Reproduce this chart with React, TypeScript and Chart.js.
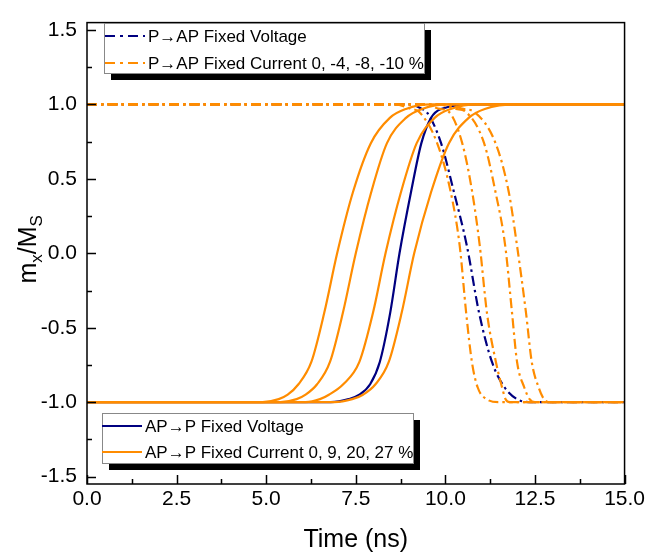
import React, { useEffect, useRef } from 'react';
import { Chart, registerables } from 'chart.js';

Chart.register(...registerables);

const ORANGE = '#FF8C00';
const NAVY = '#000080';
const FONT = '"Liberation Sans", Arial, sans-serif';

const xTicks = [0, 2.5, 5, 7.5, 10, 12.5, 15];
const xTickLabels = ['0.0', '2.5', '5.0', '7.5', '10.0', '12.5', '15.0'];
const yTicks = [-1.5, -1, -0.5, 0, 0.5, 1, 1.5];
const yTickLabels = ['-1.5', '-1.0', '-0.5', '0.0', '0.5', '1.0', '1.5'];

// AP->P (rising) : time (ns) at which m_x/M_S reaches each level
const riseLevels = [-1, -0.98, -0.95, -0.88, -0.73, -0.4, 0, 0.41, 0.74, 0.91, 0.97, 1];
const riseVoltage = [6.8, 7.3, 7.6, 7.9, 8.17, 8.46, 8.72, 9.04, 9.33, 9.6, 9.88, 10.9];
const riseCurrent0 = [6.9, 7.4, 7.7, 8.05, 8.42, 8.78, 9.13, 9.6, 10.1, 10.65, 11.1, 12.0];
const riseCurrent9 = [6.1, 6.5, 6.75, 7.15, 7.6, 7.98, 8.33, 8.76, 9.2, 9.7, 10.15, 10.9];
const riseCurrent20 = [5.4, 5.85, 6.1, 6.42, 6.78, 7.14, 7.5, 7.93, 8.37, 8.9, 9.35, 10.1];
const riseCurrent27 = [4.9, 5.35, 5.6, 5.9, 6.26, 6.62, 6.98, 7.42, 7.92, 8.45, 8.9, 9.6];

// P->AP (falling)
const fallLevels = [1, 0.97, 0.95, 0.74, 0.41, 0.05, -0.4, -0.73, -0.9, -0.98, -1];
const fallVoltage = [9.0, 9.35, 9.48, 9.88, 10.24, 10.6, 10.94, 11.3, 11.65, 12.0, 12.4];
const fallCurrent0 = [8.6, 9.05, 9.27, 9.77, 10.15, 10.4, 10.58, 10.74, 10.9, 11.15, 11.5];
const fallCurrent4 = [9.4, 9.85, 10.1, 10.47, 10.75, 10.96, 11.16, 11.41, 11.58, 11.68, 11.8];
const fallCurrent8 = [9.8, 10.3, 10.57, 11.08, 11.4, 11.67, 11.86, 12.0, 12.2, 12.35, 12.5];
const fallCurrent10 = [10.0, 10.5, 10.8, 11.4, 11.77, 12.0, 12.25, 12.41, 12.6, 12.75, 12.9];

const X_MIN = 0;
const X_MAX = 15;

const legendTop = [
  { label: 'P\u2192AP Fixed Voltage', color: NAVY, dash: [10, 5, 3, 5] },
  { label: 'P\u2192AP Fixed Current 0, -4, -8, -10 %', color: ORANGE, dash: [10, 5, 3, 5] },
];
const legendBottom = [
  { label: 'AP\u2192P Fixed Voltage', color: NAVY, dash: [] as number[] },
  { label: 'AP\u2192P Fixed Current 0, 9, 20, 27 %', color: ORANGE, dash: [] as number[] },
];

function buildRise(times: number[]) {
  return [{ x: X_MIN, y: -1 }, ...times.map((t, i) => ({ x: t, y: riseLevels[i] })), { x: X_MAX, y: 1 }];
}
function buildFall(times: number[]) {
  return [{ x: X_MIN, y: 1 }, ...times.map((t, i) => ({ x: t, y: fallLevels[i] })), { x: X_MAX, y: -1 }];
}

const DD = [10, 4, 2.5, 4];

function ds(data: any, color: string, dash: number[], order: number) {
  return {
    data,
    borderColor: color,
    backgroundColor: color,
    borderWidth: 2.2,
    borderDash: dash,
    pointRadius: 0,
    fill: false,
    cubicInterpolationMode: 'monotone' as const,
    order,
  };
}

const framePlugin = {
  id: 'frameTicks',
  afterDatasetsDraw(chart: any) {
    const { ctx, chartArea: a, scales } = chart;
    const x = scales.x;
    const y = scales.y;
    ctx.save();
    ctx.strokeStyle = '#000';
    ctx.lineWidth = 1.5;
    ctx.strokeRect(a.left, a.top, a.right - a.left, a.bottom - a.top);
    ctx.beginPath();
    for (let i = 0; i <= 12; i++) {
      const px = Math.round(x.getPixelForValue(i * 1.25)) + 0.5;
      const len = i % 2 === 0 ? 9 : 5;
      ctx.moveTo(px, a.bottom);
      ctx.lineTo(px, a.bottom - len);
    }
    for (let i = 0; i <= 12; i++) {
      const py = Math.round(y.getPixelForValue(-1.5 + i * 0.25)) + 0.5;
      const len = i % 2 === 0 ? 9 : 5;
      ctx.moveTo(a.left, py);
      ctx.lineTo(a.left + len, py);
    }
    ctx.stroke();
    ctx.restore();
  },
};

function drawLegendBox(ctx: CanvasRenderingContext2D, bx: number, by: number, bw: number, bh: number,
  items: { label: string; color: string; dash: number[] }[], lineX0: number, lineX1: number, textX: number, rowsY: number[]) {
  ctx.save();
  ctx.fillStyle = '#000';
  ctx.fillRect(bx + 7, by + 7, bw, bh);
  ctx.fillStyle = '#fff';
  ctx.fillRect(bx, by, bw, bh);
  ctx.strokeStyle = '#888';
  ctx.lineWidth = 1;
  ctx.strokeRect(bx + 0.5, by + 0.5, bw, bh);
  items.forEach((it, i) => {
    const yy = rowsY[i];
    ctx.strokeStyle = it.color;
    ctx.lineWidth = 2;
    ctx.setLineDash(it.dash);
    ctx.beginPath();
    ctx.moveTo(lineX0, yy);
    ctx.lineTo(lineX1, yy);
    ctx.stroke();
    ctx.setLineDash([]);
    ctx.fillStyle = '#000';
    ctx.font = `17px ${FONT}`;
    ctx.textBaseline = 'middle';
    ctx.textAlign = 'left';
    ctx.fillText(it.label, textX, yy + 1);
  });
  ctx.restore();
}

const legendPlugin = {
  id: 'customLegends',
  afterDraw(chart: any) {
    const ctx = chart.ctx as CanvasRenderingContext2D;
    drawLegendBox(ctx, 104, 23, 320, 50, legendTop, 105, 145, 148, [36, 63]);
    drawLegendBox(ctx, 102, 413, 311, 50, legendBottom, 102, 142, 145, [426, 452]);
  },
};

const yTitlePlugin = {
  id: 'yTitle',
  afterDraw(chart: any) {
    const ctx = chart.ctx as CanvasRenderingContext2D;
    const a = chart.chartArea;
    const cy = (a.top + a.bottom) / 2 - 4;
    const cx = 28;
    ctx.save();
    ctx.translate(cx, cy);
    ctx.rotate(-Math.PI / 2);
    ctx.fillStyle = '#000';
    ctx.textBaseline = 'alphabetic';
    ctx.textAlign = 'left';
    const big = `25px ${FONT}`;
    const small = `17px ${FONT}`;
    const parts: [string, boolean][] = [['m', false], ['x', true], ['/M', false], ['S', true]];
    let total = 0;
    parts.forEach(([t, sub]) => {
      ctx.font = sub ? small : big;
      total += ctx.measureText(t).width;
    });
    let px = -total / 2;
    const base = 8;
    parts.forEach(([t, sub]) => {
      ctx.font = sub ? small : big;
      ctx.fillText(t, px, sub ? base + 6 : base);
      px += ctx.measureText(t).width;
    });
    ctx.restore();
  },
};

export default function App() {
  const ref = useRef<HTMLCanvasElement | null>(null);
  useEffect(() => {
    if (!ref.current) return;
    const chart = new Chart(ref.current, {
      type: 'line',
      data: {
        datasets: [
          ds(buildRise(riseVoltage), NAVY, [], 2),
          ds(buildFall(fallVoltage), NAVY, DD, 2),
          ds(buildRise(riseCurrent0), ORANGE, [], 1),
          ds(buildRise(riseCurrent9), ORANGE, [], 1),
          ds(buildRise(riseCurrent20), ORANGE, [], 1),
          ds(buildRise(riseCurrent27), ORANGE, [], 1),
          ds(buildFall(fallCurrent0), ORANGE, DD, 1),
          ds(buildFall(fallCurrent4), ORANGE, DD, 1),
          ds(buildFall(fallCurrent8), ORANGE, DD, 1),
          ds(buildFall(fallCurrent10), ORANGE, DD, 1),
        ] as any,
      },
      options: {
        animation: false,
        responsive: false,
        devicePixelRatio: 1,
        layout: { padding: { left: 0, right: 22, top: 15, bottom: 0 } },
        plugins: { legend: { display: false }, tooltip: { enabled: false } },
        scales: {
          x: {
            type: 'linear',
            min: X_MIN,
            max: X_MAX,
            grid: { display: false, drawTicks: false },
            border: { display: false },
            afterBuildTicks: (s: any) => { s.ticks = xTicks.map((v) => ({ value: v })); },
            afterFit: (s: any) => { s.height = 71; },
            ticks: {
              autoSkip: false,
              maxRotation: 0,
              padding: 3,
              color: '#000',
              font: { family: FONT, size: 21 },
              callback: (_v: any, i: number) => xTickLabels[i],
            },
            title: {
              display: true,
              text: 'Time (ns)',
              color: '#000',
              font: { family: FONT, size: 25 },
              padding: { top: 0, bottom: 0 },
            },
          },
          y: {
            type: 'linear',
            min: -1.55,
            max: 1.55,
            grid: { display: false, drawTicks: false },
            border: { display: false },
            afterBuildTicks: (s: any) => { s.ticks = yTicks.map((v) => ({ value: v })); },
            afterFit: (s: any) => { s.width = 87; },
            ticks: {
              autoSkip: false,
              padding: 10,
              color: '#000',
              font: { family: FONT, size: 21 },
              callback: (_v: any, i: number) => yTickLabels[i],
            },
          },
        },
      } as any,
      plugins: [framePlugin, yTitlePlugin, legendPlugin],
    });
    return () => chart.destroy();
  }, []);
  return (
    <div style={{ position: 'absolute', left: 0, top: 0, width: 648, height: 555, background: '#fff' }}>
      <canvas ref={ref} width={648} height={555} style={{ width: 648, height: 555, display: 'block' }} />
    </div>
  );
}
